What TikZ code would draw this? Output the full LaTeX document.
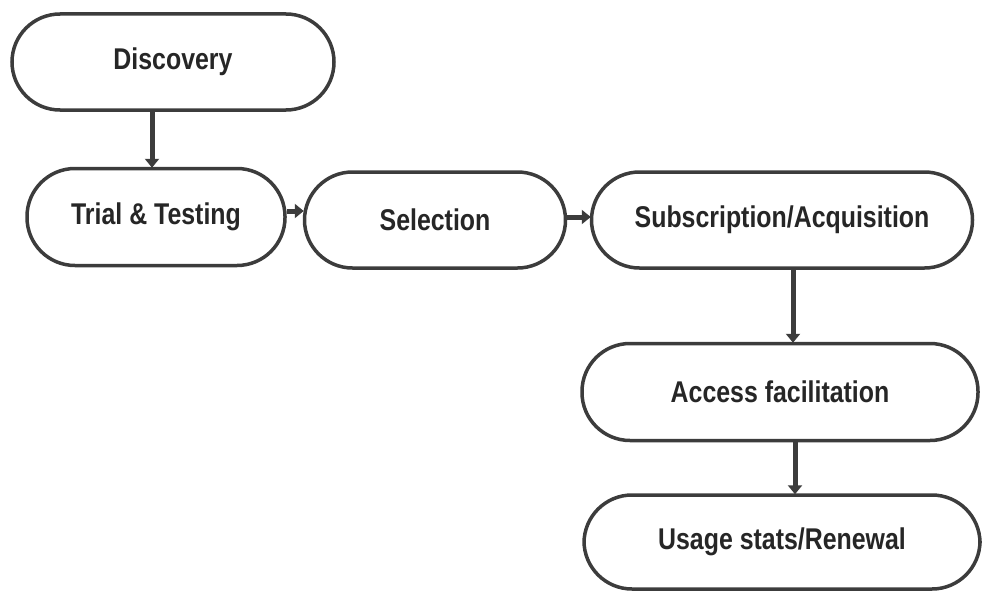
\documentclass[tikz,border=0pt]{standalone}
\usepackage{fontspec}
\setmainfont[FakeStretch=0.83]{Liberation Sans}
\usetikzlibrary{arrows.meta}
\definecolor{edge}{HTML}{3C3C3C}
\definecolor{ink}{HTML}{262626}
\tikzset{
  stage/.style={draw=edge, line width=3.5pt, rounded corners=48pt, fill=white,
    inner sep=0pt, text=ink, font=\bfseries\fontsize{30}{34}\selectfont},
  flow/.style={draw=edge, line width=5pt, -{Triangle[width=14pt,length=9pt]}, shorten >=-1pt}
}
\begin{document}
\begin{tikzpicture}[x=1pt,y=-1pt]
\useasboundingbox (0,0) rectangle (984,594);
\node[stage, minimum width=322pt, minimum height=96pt] (disc) at (173,62) {Discovery};
\node[stage, minimum width=258pt, minimum height=97pt] (trial) at (156,217) {Trial \& Testing};
\node[stage, minimum width=261pt, minimum height=96pt] (sel) at (435,220) {Selection};
\node[stage, minimum width=381pt, minimum height=96pt] (sub) at (782,220) {Subscription/Acquisition};
\node[stage, minimum width=396pt, minimum height=97pt] (acc) at (780,392) {Access facilitation};
\node[stage, minimum width=396pt, minimum height=94pt] (use) at (782,542) {Usage stats/Renewal};
\draw[flow] ([xshift=-4pt]trial.north |- disc.south) -- ([xshift=-4pt]trial.north);
\draw[flow] ([yshift=6pt]trial.east) -- ([yshift=6pt]trial.east -| sel.west);
\draw[flow] ([yshift=3pt]sel.east) -- ([yshift=3pt]sel.east -| sub.west);
\draw[flow] ([xshift=11pt]sub.south) -- ([xshift=11pt]sub.south |- acc.north);
\draw[flow] ([xshift=15pt]acc.south) -- ([xshift=15pt]acc.south |- use.north);
\end{tikzpicture}
\end{document}
